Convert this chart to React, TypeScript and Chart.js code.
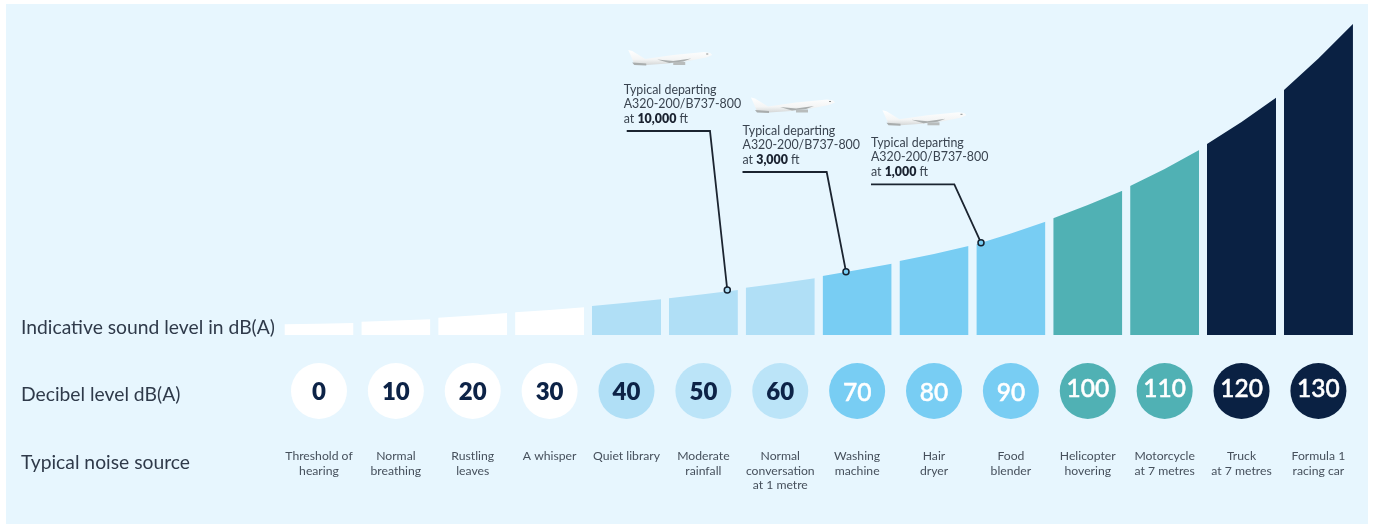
import React, { useEffect, useRef } from "react";
import { Chart, registerables } from "chart.js";

Chart.register(...registerables);

const decibels = [0, 10, 20, 30, 40, 50, 60, 70, 80, 90, 100, 110, 120, 130];
const topLeft = [10.7, 13.3, 17.3, 22.7, 29, 36.7, 47.3, 59, 74, 90.7, 116.7, 149, 191, 245];
const topMiddle = [11.3, 14.5, 19.6, 25, 32.2, 40.7, 51.8, 65, 81, 101.5, 130, 166, 213, 276.5];
const topRight = [12, 15.7, 22, 27.7, 35.7, 45, 56.7, 71.3, 89, 113.3, 144.3, 185, 237.3, 311];
const sources = [
  ["Threshold of", "hearing"],
  ["Normal", "breathing"],
  ["Rustling", "leaves"],
  ["A whisper"],
  ["Quiet library"],
  ["Moderate", "rainfall"],
  ["Normal", "conversation", "at 1 metre"],
  ["Washing", "machine"],
  ["Hair", "dryer"],
  ["Food", "blender"],
  ["Helicopter", "hovering"],
  ["Motorcycle", "at 7 metres"],
  ["Truck", "at 7 metres"],
  ["Formula 1", "racing car"],
];
const bandColours = [
  "#ffffff", "#ffffff", "#ffffff", "#ffffff",
  "#b0dff6", "#b0dff6", "#b0dff6",
  "#78cdf3", "#78cdf3", "#78cdf3",
  "#50b1b4", "#50b1b4",
  "#0a2143", "#0a2143",
];
const circleColours = [
  "#ffffff", "#ffffff", "#ffffff", "#ffffff",
  "#b0dff6", "#bbe4f8", "#bbe4f8",
  "#78cdf3", "#78cdf3", "#78cdf3",
  "#50b1b4", "#50b1b4",
  "#0a2143", "#0a2143",
];
const rowLabels = ["Indicative sound level in dB(A)", "Decibel level dB(A)", "Typical noise source"];
const calloutAltitudes = ["10,000", "3,000", "1,000"];
const leaderX = [
  [4.003, 5.086, 5.311],
  [5.509, 6.604, 6.855],
  [7.18, 8.264, 8.611],
];
const leaderY = [
  [204, 204, 45],
  [163, 163, 63.3],
  [150.7, 150.7, 92.3],
];

const FONT = "Lato, 'Noto Sans', sans-serif";
const HALF = 0.449;

const annotate = {
  id: "annotate",
  beforeDraw(chart: any) {
    const { ctx, width, height } = chart;
    ctx.save();
    ctx.fillStyle = "#ffffff";
    ctx.fillRect(0, 0, width, height);
    ctx.fillStyle = "#e7f6fe";
    ctx.fillRect(6, 4, 1362, 520);
    ctx.restore();
  },
  afterDraw(chart: any) {
    const { ctx, scales } = chart;
    const sx = scales.x;
    const sy = scales.y;
    ctx.save();
    ctx.textBaseline = "middle";

    ctx.fillStyle = "#2f3a4a";
    ctx.font = `400 19.3px ${FONT}`;
    ctx.textAlign = "left";
    const rowY = [328, 394.5, 463];
    rowLabels.forEach((t, i) => ctx.fillText(t, 21, rowY[i]));

    decibels.forEach((d, i) => {
      const x = sx.getPixelForValue(i);
      ctx.textAlign = "center";
      if (i < 7) {
        ctx.fillStyle = "#0d2347";
        ctx.font = `800 24px ${FONT}`;
        ctx.fillText(String(d), x, 392.5);
      } else {
        const y = i < 10 ? 393 : 389.5;
        ctx.fillStyle = "#ffffff";
        ctx.strokeStyle = "#ffffff";
        ctx.lineWidth = 0.5;
        ctx.font = `500 24.5px ${FONT}`;
        ctx.fillText(String(d), x, y);
        ctx.strokeText(String(d), x, y);
      }
      ctx.fillStyle = "#46505c";
      ctx.font = `400 12.2px ${FONT}`;
      sources[i].forEach((line, k) => ctx.fillText(line, x, 456.5 + k * 14.3));
    });

    ctx.textAlign = "left";
    calloutAltitudes.forEach((alt, i) => {
      const x = sx.getPixelForValue(leaderX[i][0]);
      const baseY = sy.getPixelForValue(leaderY[i][0]);
      const tx = x - (i === 0 ? 3 : 0);
      ctx.fillStyle = "#3a4450";
      ctx.font = `400 12.4px ${FONT}`;
      ctx.fillText("Typical departing", tx, baseY - 41);
      ctx.fillText("A320-200/B737-800", tx, baseY - 27);
      ctx.fillText("at ", tx, baseY - 12.5);
      let cursor = tx + ctx.measureText("at ").width;
      ctx.fillStyle = "#1a2230";
      ctx.font = `800 12.4px ${FONT}`;
      ctx.fillText(alt, cursor, baseY - 12.5);
      cursor += ctx.measureText(alt).width;
      ctx.fillStyle = "#3a4450";
      ctx.font = `400 12.4px ${FONT}`;
      ctx.fillText(" ft", cursor, baseY - 12.5);
      drawPlane(ctx, x + 1.5 + (i === 0 ? 0 : i === 1 ? 7 : 10), baseY - 81 + (i === 0 ? 0 : i === 1 ? 6.5 : 7));
    });
    ctx.restore();
  },
};

function drawPlane(ctx: CanvasRenderingContext2D, ox: number, oy: number) {
  ctx.save();
  ctx.translate(ox, oy);
  const g = ctx.createLinearGradient(0, 0, 0, 17);
  g.addColorStop(0, "#ffffff");
  g.addColorStop(0.55, "#f4f5f5");
  g.addColorStop(1, "#c9cccc");
  ctx.fillStyle = g;
  ctx.beginPath();
  ctx.moveTo(0, 0);
  ctx.lineTo(4, 1);
  ctx.lineTo(17, 9);
  ctx.lineTo(45, 5);
  ctx.lineTo(76, 2);
  ctx.lineTo(82, 3);
  ctx.lineTo(84, 5);
  ctx.lineTo(78, 7.5);
  ctx.lineTo(60, 11);
  ctx.lineTo(40, 13.5);
  ctx.lineTo(18, 15);
  ctx.lineTo(6, 14);
  ctx.lineTo(4, 9);
  ctx.closePath();
  ctx.fill();
  ctx.fillStyle = "#a9adad";
  ctx.beginPath();
  ctx.moveTo(4, 12.5);
  ctx.lineTo(18, 13.5);
  ctx.lineTo(18, 15.5);
  ctx.lineTo(6, 15);
  ctx.closePath();
  ctx.fill();
  ctx.beginPath();
  ctx.moveTo(29, 9.5);
  ctx.lineTo(45, 11);
  ctx.lineTo(63, 8.5);
  ctx.lineTo(55, 11.5);
  ctx.lineTo(41, 13);
  ctx.closePath();
  ctx.fill();
  ctx.fillStyle = "#b8bcbc";
  ctx.fillRect(45, 12, 12, 3);
  ctx.fillStyle = "#8d9191";
  ctx.fillRect(78, 3.5, 2, 1);
  ctx.restore();
}

export default function App() {
  const ref = useRef<HTMLCanvasElement>(null);
  useEffect(() => {
    const barSets = decibels.map((d, i) => ({
      label: `${d} dB(A)`,
      data: [
        { x: i - HALF, y: topLeft[i] },
        { x: i, y: topMiddle[i] },
        { x: i + HALF, y: topRight[i] },
      ],
      backgroundColor: bandColours[i],
      borderWidth: 0,
      pointRadius: 0,
      tension: 0,
      fill: { value: 0 },
      order: 10,
    }));
    const leaders = leaderX.map((xs, i) => ({
      label: `leader ${i}`,
      data: xs.map((x, k) => ({ x, y: leaderY[i][k] })),
      borderColor: "#1b2430",
      borderWidth: 1.8,
      pointRadius: [0, 0, 3],
      pointBorderWidth: 1.5,
      pointBorderColor: "#14202e",
      pointBackgroundColor: i === 0 ? "#b0dff6" : "#78cdf3",
      fill: false,
      tension: 0,
      order: 1,
    }));
    const circles = {
      label: "Decibel level",
      data: decibels.map((_, i) => ({ x: i, y: -56 })),
      showLine: false,
      pointRadius: 28,
      pointBorderWidth: 0,
      pointBackgroundColor: circleColours,
      fill: false,
      order: 5,
    };
    const chart = new Chart(ref.current as HTMLCanvasElement, {
      type: "line",
      data: { datasets: [...leaders, circles, ...barSets] as any },
      options: {
        responsive: false,
        animation: false,
        layout: { padding: 0, autoPadding: false },
        plugins: { legend: { display: false }, tooltip: { enabled: false }, title: { display: false } },
        scales: {
          x: { type: "linear", display: false, min: -4.149, max: 13.71 },
          y: { type: "linear", display: false, min: -189, max: 335 },
        },
      },
      plugins: [annotate],
    } as any);
    return () => chart.destroy();
  }, []);
  return (
    <div style={{ position: "absolute", left: 0, top: 0, width: 1373, height: 524 }}>
      <canvas ref={ref} width={1373} height={524} style={{ display: "block" }} />
    </div>
  );
}
